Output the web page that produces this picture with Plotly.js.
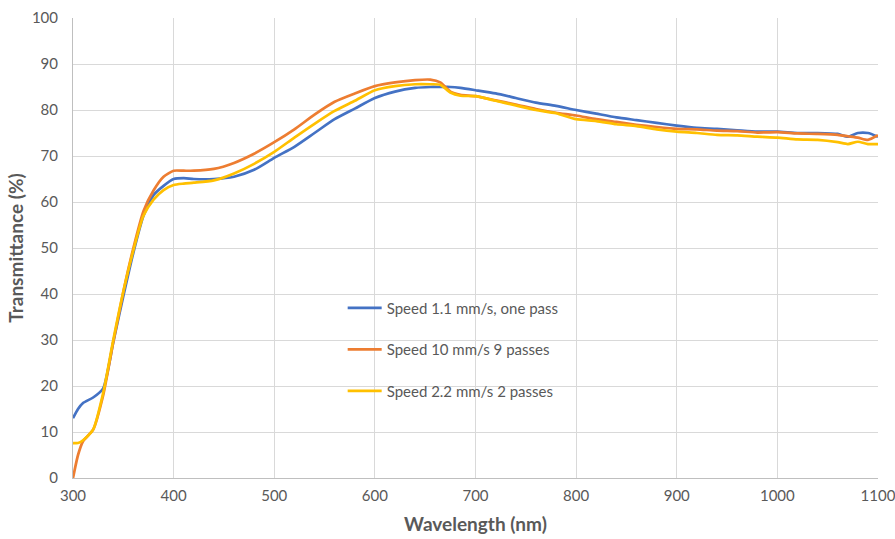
<!DOCTYPE html>
<html>
<head>
<meta charset="utf-8">
<script src="https://cdn.plot.ly/plotly-3.0.1.min.js"></script>
<style>
  html, body { margin: 0; padding: 0; background: #ffffff; }
  #chart { width: 895px; height: 539px; }
</style>
</head>
<body>
<div id="chart"></div>
<script>
// Wavelength sample points (nm)
const wavelength = [300,305,310,320,330,340,350,360,370,380,390,400,410,420,440,460,480,500,520,540,560,580,600,620,640,655,665,675,685,700,720,740,760,780,800,820,840,860,880,900,920,940,960,980,1000,1020,1040,1060,1070,1080,1090,1100];

// Transmittance (%) for each deposition condition
const speed11OnePass = [13,15,16.3,17.5,19.5,29.5,39.5,49,57,61.5,63.5,65,65.2,65,65,65.5,67,69.6,72,75,78,80.3,82.6,84,84.8,85,85,85,84.8,84.3,83.6,82.6,81.6,80.9,80,79.2,78.4,77.8,77.2,76.6,76.1,75.9,75.6,75.3,75.3,75,75,74.8,74.2,75,75,74.2];
const speed10NinePasses = [0,5,8,10.5,18,29.5,40.5,50,58,62.5,65.5,66.8,66.8,66.8,67.2,68.5,70.5,73,75.8,79,81.8,83.6,85.2,86,86.5,86.6,86,84,83.3,83,82.1,81.2,80.2,79.4,78.8,78,77.4,76.8,76.3,75.9,75.8,75.5,75.4,75.1,75.2,74.9,74.8,74.6,74.3,74,73.5,74.5];
const speed22TwoPasses = [7.6,7.6,8.2,10.5,18.5,30,40.5,49.5,57,60.5,62.6,63.7,64,64.2,64.7,66.2,68.3,70.9,74,77,79.8,82,84.3,85.2,85.6,85.6,85.5,83.8,83.1,83,82,81,80,79.3,78,77.6,76.9,76.5,75.8,75.3,75,74.6,74.5,74.2,74,73.6,73.5,73,72.6,73.1,72.6,72.6];

const seriesNames = ['Speed 1.1 mm/s, one pass', 'Speed 10 mm/s 9 passes', 'Speed 2.2 mm/s 2 passes'];
const seriesColors = ['#4472C4', '#ED7D31', '#FFC000'];
const seriesValues = [speed11OnePass, speed10NinePasses, speed22TwoPasses];

const xTicks = [300,400,500,600,700,800,900,1000,1100];
const yTicks = [0,10,20,30,40,50,60,70,80,90,100];

const traces = seriesValues.map((vals, i) => ({
  x: wavelength,
  y: vals,
  type: 'scatter',
  mode: 'lines',
  name: seriesNames[i],
  legendgroup: 'g' + i,
  line: { color: seriesColors[i], width: 2.7, shape: 'spline', smoothing: 0.6 }
}));

const fontFam = 'Lato, "Liberation Sans", Arial, sans-serif';
const gray = '#595959';

const layout = {
  width: 895,
  height: 539,
  margin: { l: 73, r: 17, t: 18, b: 61 },
  paper_bgcolor: '#ffffff',
  plot_bgcolor: '#ffffff',
  font: { family: fontFam, color: gray, size: 15 },
  showlegend: true,
  legend: {
    x: 0.335, y: 0.405, xanchor: 'left', yanchor: 'top',
    bgcolor: 'rgba(0,0,0,0)',
    font: { family: fontFam, size: 15, color: gray },
    tracegroupgap: 19,
    itemwidth: 34
  },
  xaxis: {
    range: [300, 1100],
    tickvals: xTicks,
    ticktext: xTicks.map(String),
    showgrid: true,
    gridcolor: '#d9d9d9',
    gridwidth: 1,
    zeroline: false,
    showline: true,
    linecolor: '#bfbfbf',
    linewidth: 1,
    ticks: '',
    ticklabelstandoff: 4,
    ticklabeloverflow: 'allow',
    tickfont: { size: 15, color: gray },
    title: { text: '<b>Wavelength (nm)</b>', font: { size: 19, color: gray }, standoff: 14 }
  },
  yaxis: {
    range: [0, 100],
    tickvals: yTicks,
    ticktext: yTicks.map(String),
    showgrid: true,
    gridcolor: '#d9d9d9',
    gridwidth: 1,
    zeroline: false,
    showline: true,
    linecolor: '#bfbfbf',
    linewidth: 1,
    ticks: '',
    ticklabelstandoff: 11,
    tickfont: { size: 15, color: gray },
    title: { text: '<b>Transmittance (%)</b>', font: { size: 19, color: gray }, standoff: 3 }
  }
};

Plotly.newPlot('chart', traces, layout, { staticPlot: true, displayModeBar: false });
</script>
</body>
</html>
